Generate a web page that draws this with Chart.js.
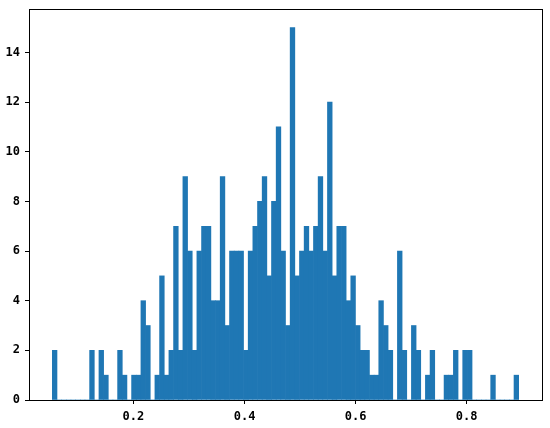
<!DOCTYPE html>
<html>
<head>
<meta charset="utf-8">
<script src="https://cdn.jsdelivr.net/npm/chart.js@4/dist/chart.umd.min.js"></script>
<style>
  html, body { margin: 0; padding: 0; background: #fff; }
  #wrap { width: 550px; height: 428px; }
</style>
</head>
<body>
<div id="wrap"><canvas id="hist"></canvas></div>
<script>
// histogram: 100 equal bins between the data min and max
var binLow = 0.0539;
var binHigh = 0.8937;
var counts = [2,0,0,0,0,0,0,0,2,0, 2,1,0,0,2,1,0,1,1,4, 3,0,1,5,1,2,7,2,9,6,
              2,6,7,7,4,4,9,3,6,6, 6,2,6,7,8,9,5,8,11,6, 3,15,5,6,7,6,7,9,6,12,
              5,7,7,4,5,3,2,2,1,1, 4,3,2,0,6,2,0,3,2,0, 1,2,0,0,1,1,2,0,2,2,
              0,0,0,0,1,0,0,0,0,1];
var xTicks = [0.2, 0.4, 0.6, 0.8];
var yTicks = [0, 2, 4, 6, 8, 10, 12, 14];

var binWidth = (binHigh - binLow) / counts.length;
var points = counts.map(function(c, i){ return {x: binLow + (i + 0.5) * binWidth, y: c}; });
var span = binHigh - binLow;

var frame = {                       // matplotlib style box round the axes
  id: 'frame',
  afterDatasetsDraw: function(chart){
    var a = chart.chartArea, ctx = chart.ctx;
    ctx.save();
    ctx.strokeStyle = '#000';
    ctx.lineWidth = 1;
    ctx.strokeRect(Math.round(a.left) + 0.5, Math.round(a.top) + 0.5,
                   Math.round(a.right - a.left), Math.round(a.bottom - a.top));
    ctx.restore();
  }
};

var tickFont = { family: "'DejaVu Sans Mono', monospace", size: 12, weight: 'bold' };

new Chart(document.getElementById('hist'), {
  type: 'bar',
  data: {
    datasets: [{
      data: points,
      backgroundColor: '#1f77b4',
      borderWidth: 0,
      barPercentage: 1,
      categoryPercentage: 1
    }]
  },
  options: {
    responsive: true,
    maintainAspectRatio: false,
    animation: false,
    events: [],
    layout: { padding: { left: 0, top: 9, right: 8, bottom: 0 } },
    plugins: { legend: { display: false }, tooltip: { enabled: false } },
    scales: {
      x: {
        type: 'linear',
        offset: false,
        min: binLow - 0.05 * span,
        max: binHigh + 0.05 * span,
        afterBuildTicks: function(s){ s.ticks = xTicks.map(function(v){ return {value: v}; }); },
        afterFit: function(s){ s.height = 28; s.paddingLeft = 0; s.paddingRight = 0; },
        grid: { display: true, offset: false, drawOnChartArea: false, color: '#000', tickLength: 4, tickColor: '#000' },
        border: { display: false },
        ticks: { color: '#000', font: tickFont, padding: 6, maxRotation: 0,
                 callback: function(v){ return v.toFixed(1); } }
      },
      y: {
        min: 0,
        max: 15.75,
        afterBuildTicks: function(s){ s.ticks = yTicks.map(function(v){ return {value: v}; }); },
        afterFit: function(s){ s.width = 29; s.paddingTop = 0; s.paddingBottom = 0; },
        grid: { display: true, drawOnChartArea: false, color: '#000', tickLength: 4, tickColor: '#000' },
        border: { display: false },
        ticks: { color: '#000', font: tickFont, padding: 5 }
      }
    }
  },
  plugins: [frame]
});
</script>
</body>
</html>
